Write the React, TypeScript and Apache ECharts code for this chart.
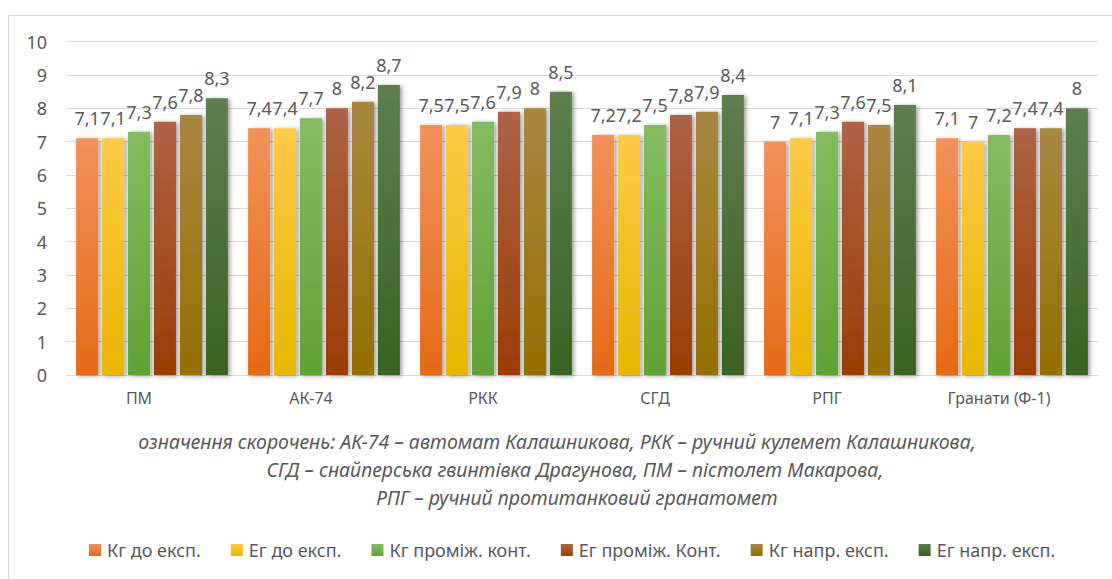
import React, { useEffect, useRef } from "react";
import * as echarts from "echarts";

const categories = ["ПМ", "АК-74", "РКК", "СГД", "РПГ", "Гранати (Ф-1)"];
const seriesNames = [
  "Кг до експ.",
  "Ег до експ.",
  "Кг проміж. конт.",
  "Ег проміж. Конт.",
  "Кг напр. експ.",
  "Ег напр. експ.",
];
const kgBefore = [7.1, 7.4, 7.5, 7.2, 7, 7.1];
const egBefore = [7.1, 7.4, 7.5, 7.2, 7.1, 7];
const kgMid = [7.3, 7.7, 7.6, 7.5, 7.3, 7.2];
const egMid = [7.6, 8, 7.9, 7.8, 7.6, 7.4];
const kgAfter = [7.8, 8.2, 8, 7.9, 7.5, 7.4];
const egAfter = [8.3, 8.7, 8.5, 8.4, 8.1, 8];
const seriesValues = [kgBefore, egBefore, kgMid, egMid, kgAfter, egAfter];
const yMin = 0;
const yMax = 10;
const yStep = 1;
const captionLines = [
  "означення скорочень: АК-74 – автомат Калашникова, РКК – ручний кулемет Калашникова,",
  "СГД – снайперська гвинтівка Драгунова, ПМ – пістолет Макарова,",
  "РПГ – ручний протитанковий гранатомет",
];

const gradients: [string, string][] = [
  ["#F4915A", "#E46A16"],
  ["#FFCA47", "#E8B700"],
  ["#84BC60", "#61A234"],
  ["#AE6347", "#9B3D02"],
  ["#AA8742", "#946F00"],
  ["#5E7F4F", "#3A6221"],
];

const FONT = "Noto Sans";
const GRAY = "#595959";

export default function App() {
  const ref = useRef<HTMLDivElement>(null);
  useEffect(() => {
    if (!ref.current) return;
    const chart = echarts.init(ref.current, undefined, { renderer: "svg" });
    const series = seriesValues.map((vals, i) => ({
      name: seriesNames[i],
      type: "bar",
      data: vals,
      barWidth: 22,
      barGap: "18%",
      itemStyle: {
        color: new echarts.graphic.LinearGradient(0, 0, 0, 1, [
          { offset: 0, color: gradients[i][0] },
          { offset: 1, color: gradients[i][1] },
        ]),
        shadowColor: "rgba(0,0,0,0.4)",
        shadowBlur: 4,
        shadowOffsetX: 2,
        shadowOffsetY: 1,
      },
      label: {
        show: true,
        position: "top",
        distance: 11,
        color: GRAY,
        fontFamily: FONT,
        fontSize: 18,
        formatter: (p: any) => String(p.value).replace(".", ","),
      },
    }));
    chart.setOption({
      animation: false,
      backgroundColor: "#ffffff",
      grid: { left: 66, right: 14, top: 41.7, bottom: 204 },
      xAxis: {
        type: "category",
        data: categories,
        axisLine: { show: true, lineStyle: { color: "#d9d9d9", width: 1 } },
        axisTick: { show: false },
        axisLabel: {
          color: GRAY,
          fontFamily: FONT,
          fontSize: 16,
          margin: 15,
          padding: [0, 26, 0, 0],
        },
      },
      yAxis: {
        type: "value",
        min: yMin,
        max: yMax,
        interval: yStep,
        axisLine: { show: false },
        axisTick: { show: false },
        splitLine: { lineStyle: { color: "#d9d9d9", width: 1 } },
        axisLabel: { color: GRAY, fontFamily: FONT, fontSize: 18, margin: 19 },
      },
      legend: {
        data: seriesNames,
        left: 89,
        top: 541,
        padding: 0,
        itemWidth: 12,
        itemHeight: 12,
        itemGap: 30,
        icon: "rect",
        textStyle: { color: GRAY, fontFamily: FONT, fontSize: 18, padding: [0, 0, 0, 1] },
      },
      graphic: [
        {
          type: "rect",
          silent: true,
          shape: { x: 8.5, y: 15.5, width: 1300, height: 800 },
          style: { fill: "none", stroke: "#d9d9d9", lineWidth: 1 },
        },
        ...captionLines.map((t, i) => ({
          type: "text",
          silent: true,
          x: [557, 575, 577][i],
          y: [441, 469, 497][i],
          style: {
            text: t,
            fill: GRAY,
            fontFamily: FONT,
            fontStyle: "italic",
            fontSize: 19.5,
            textAlign: "center",
            textVerticalAlign: "middle",
          },
        })),
      ],
      series,
    });
    return () => chart.dispose();
  }, []);
  return (
    <div
      ref={ref}
      style={{ position: "fixed", left: 0, top: 0, width: 1112, height: 579 }}
    />
  );
}
